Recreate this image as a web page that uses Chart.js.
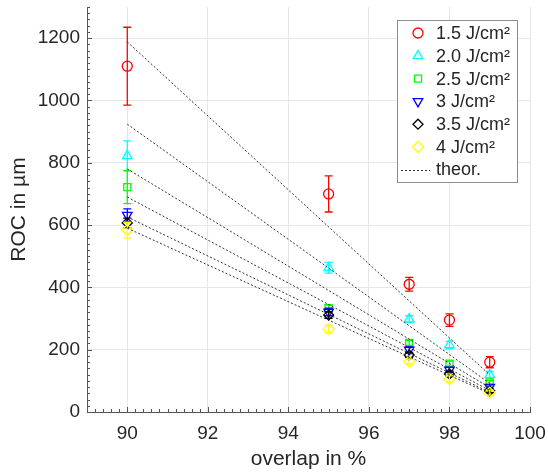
<!DOCTYPE html>
<html>
<head>
<meta charset="utf-8">
<script src="https://cdn.jsdelivr.net/npm/chart.js@4.4.0/dist/chart.umd.min.js"></script>
<style>
  html, body { margin: 0; padding: 0; background: #fff; }
</style>
</head>
<body>
<canvas id="rocChart" width="548" height="472"></canvas>
<script>
// overlap (x) shared by every measured series
var overlap = [90, 95, 97, 98, 99];

var labels = ['1.5 J/cm²', '2.0 J/cm²', '2.5 J/cm²', '3 J/cm²', '3.5 J/cm²', '4 J/cm²'];

// measured ROC in µm, and half length of the error bars
var roc15 = [1110, 700, 410, 295, 160];
var err15 = [125, 58, 22, 20, 18];
var roc20 = [822, 463, 298, 215, 120];
var err20 = [48, 17, 11, 12, 10];
var roc25 = [722, 333, 222, 155, 95];
var err25 = [53, 10, 8, 8, 6];
var roc30 = [632, 321, 199, 135, 80];
var err30 = [20, 12, 10, 8, 8];
var roc35 = [607, 311, 183, 122, 68];
var err35 = [15, 10, 8, 8, 6];
var roc40 = [584, 266, 162, 106, 62];
var err40 = [25, 12, 8, 10, 8];

// theoretical lines, from 90 % to 99 %
var theorX = [90, 99];
var theorStart = [1188, 924, 780, 690, 626, 590];
var theorEnd = [119, 92, 78, 69, 63, 59];

var xTicks = [90, 92, 94, 96, 98, 100];
var yTicks = [0, 200, 400, 600, 800, 1000, 1200];

var colors = ['#ff0000', '#00ffff', '#00ff00', '#0000ff', '#000000', '#ffff00'];
var styles = ['circle', 'triangle', 'rect', 'triangle', 'rectRot', 'rectRot'];
var rotations = [0, 0, 0, 180, 0, 0];
var radii = [5, 5.5, 5, 5.5, 5, 5.5];
var rocs = [roc15, roc20, roc25, roc30, roc35, roc40];
var errs = [err15, err20, err25, err30, err35, err40];

var textColor = '#262626';
var fontName = '"Liberation Sans", Arial, sans-serif';

function points(xs, ys) {
    var out = [];
    for (var i = 0; i < xs.length; i++) out.push({x: xs[i], y: ys[i]});
    return out;
}

var datasets = [];
for (var i = 0; i < rocs.length; i++) {
    datasets.push({
        label: labels[i],
        data: points(overlap, rocs[i]),
        errors: errs[i],
        showLine: false,
        borderColor: colors[i],
        backgroundColor: 'rgba(0,0,0,0)',
        pointStyle: styles[i],
        rotation: rotations[i],
        pointRadius: radii[i],
        pointBorderWidth: 1.3,
        order: 10 - i
    });
}
for (var j = 0; j < theorStart.length; j++) {
    datasets.push({
        label: 'theor.',
        data: points(theorX, [theorStart[j], theorEnd[j]]),
        showLine: true,
        borderColor: '#333333',
        borderWidth: 1,
        borderDash: [2, 2],
        pointRadius: 0,
        order: 0
    });
}

// vertical error bars with caps, drawn just below each series' markers
var errorBars = {
    id: 'errorBars',
    beforeDatasetDraw: function(chart, args) {
        var ds = chart.data.datasets[args.index];
        if (!ds.errors) return;
        var ctx = chart.ctx, xs = chart.scales.x, ys = chart.scales.y;
        ctx.save();
        ctx.strokeStyle = ds.borderColor;
        ctx.lineWidth = 1.3;
        ds.data.forEach(function(p, k) {
            var e = ds.errors[k];
            var px = xs.getPixelForValue(p.x);
            var top = ys.getPixelForValue(p.y + e);
            var bot = ys.getPixelForValue(p.y - e);
            ctx.beginPath();
            ctx.moveTo(px, top); ctx.lineTo(px, bot);
            ctx.moveTo(px - 4, top); ctx.lineTo(px + 4, top);
            ctx.moveTo(px - 4, bot); ctx.lineTo(px + 4, bot);
            ctx.stroke();
        });
        ctx.restore();
    }
};

// small inward ticks like MATLAB axes
var minorTicks = {
    id: 'minorTicks',
    afterDraw: function(chart) {
        var ctx = chart.ctx, xs = chart.scales.x, ys = chart.scales.y;
        var a = chart.chartArea;
        ctx.save();
        ctx.strokeStyle = '#555555';
        ctx.lineWidth = 1;
        ctx.beginPath();
        for (var v = 89; v <= 100.001; v += 0.2) {
            var px = Math.round(xs.getPixelForValue(v)) + 0.5;
            var len = Math.abs(v - Math.round(v)) < 0.01 && Math.round(v) % 2 === 0 ? 5 : 3;
            ctx.moveTo(px, a.bottom); ctx.lineTo(px, a.bottom - len);
        }
        for (var w = 0; w <= 1300; w += 20) {
            var py = Math.round(ys.getPixelForValue(w)) + 0.5;
            var ln = w % 200 === 0 ? 5 : 3;
            ctx.moveTo(a.left, py); ctx.lineTo(a.left + ln, py);
        }
        ctx.stroke();
        ctx.restore();
    }
};

// legend box inside the plot, top right
var boxLegend = {
    id: 'boxLegend',
    afterDraw: function(chart) {
        var ctx = chart.ctx;
        var left = 397, top = 20, width = 120, height = 162;
        ctx.save();
        ctx.fillStyle = '#ffffff';
        ctx.fillRect(left, top, width, height);
        ctx.strokeStyle = '#8c8c8c';
        ctx.lineWidth = 1;
        ctx.strokeRect(left + 0.5, top + 0.5, width, height);
        ctx.font = '18px ' + fontName;
        ctx.textBaseline = 'middle';
        ctx.textAlign = 'left';
        for (var i = 0; i < labels.length; i++) {
            var cy = top + 13 + i * 22.8;
            ctx.strokeStyle = colors[i];
            ctx.fillStyle = 'rgba(0,0,0,0)';
            ctx.lineWidth = 1.3;
            Chart.helpers.drawPoint(ctx, {
                pointStyle: styles[i], rotation: rotations[i],
                radius: radii[i], borderWidth: 1.3
            }, 418, cy);
            ctx.fillStyle = textColor;
            ctx.fillText(labels[i], 436, cy + 1);
        }
        var ty = top + 13 + 6 * 22.8;
        ctx.strokeStyle = '#333333';
        ctx.lineWidth = 1;
        ctx.setLineDash([2, 2]);
        ctx.beginPath();
        ctx.moveTo(401, Math.round(ty) + 0.5); ctx.lineTo(430, Math.round(ty) + 0.5);
        ctx.stroke();
        ctx.setLineDash([]);
        ctx.fillStyle = textColor;
        ctx.fillText('theor.', 436, ty);
        ctx.restore();
    }
};

var ctx = document.getElementById('rocChart').getContext('2d');
var myChart = new Chart(ctx, {
    type: 'scatter',
    data: { datasets: datasets },
    plugins: [errorBars, minorTicks, boxLegend],
    options: {
        responsive: false,
        animation: false,
        layout: { padding: { top: 7, right: 18, left: 0, bottom: 0 } },
        plugins: { legend: { display: false }, tooltip: { enabled: false } },
        scales: {
            x: {
                type: 'linear',
                min: 89,
                max: 100,
                afterBuildTicks: function(s) { s.ticks = xTicks.map(function(v) { return {value: v}; }); },
                afterFit: function(s) { s.height = 60; s.paddingLeft = 0; s.paddingRight = 0; },
                grid: { color: '#e6e6e6', drawTicks: false },
                border: { color: '#555555' },
                ticks: { color: textColor, font: { family: fontName, size: 19 }, padding: 10, maxRotation: 0,
                         callback: function(v) { return String(v); } },
                title: { display: true, text: 'overlap in %', color: textColor,
                         font: { family: fontName, size: 21 }, padding: 0 }
            },
            y: {
                type: 'linear',
                min: 0,
                max: 1300,
                afterBuildTicks: function(s) { s.ticks = yTicks.map(function(v) { return {value: v}; }); },
                afterFit: function(s) { s.width = 87; s.paddingTop = 0; s.paddingBottom = 0; },
                grid: { color: '#e6e6e6', drawTicks: false },
                border: { color: '#555555' },
                ticks: { color: textColor, font: { family: fontName, size: 19 }, padding: 7,
                         callback: function(v) { return String(v); } },
                title: { display: true, text: 'ROC in µm', color: textColor,
                         font: { family: fontName, size: 21 }, padding: { top: 7, bottom: 0 } }
            }
        }
    }
});
</script>
</body>
</html>
